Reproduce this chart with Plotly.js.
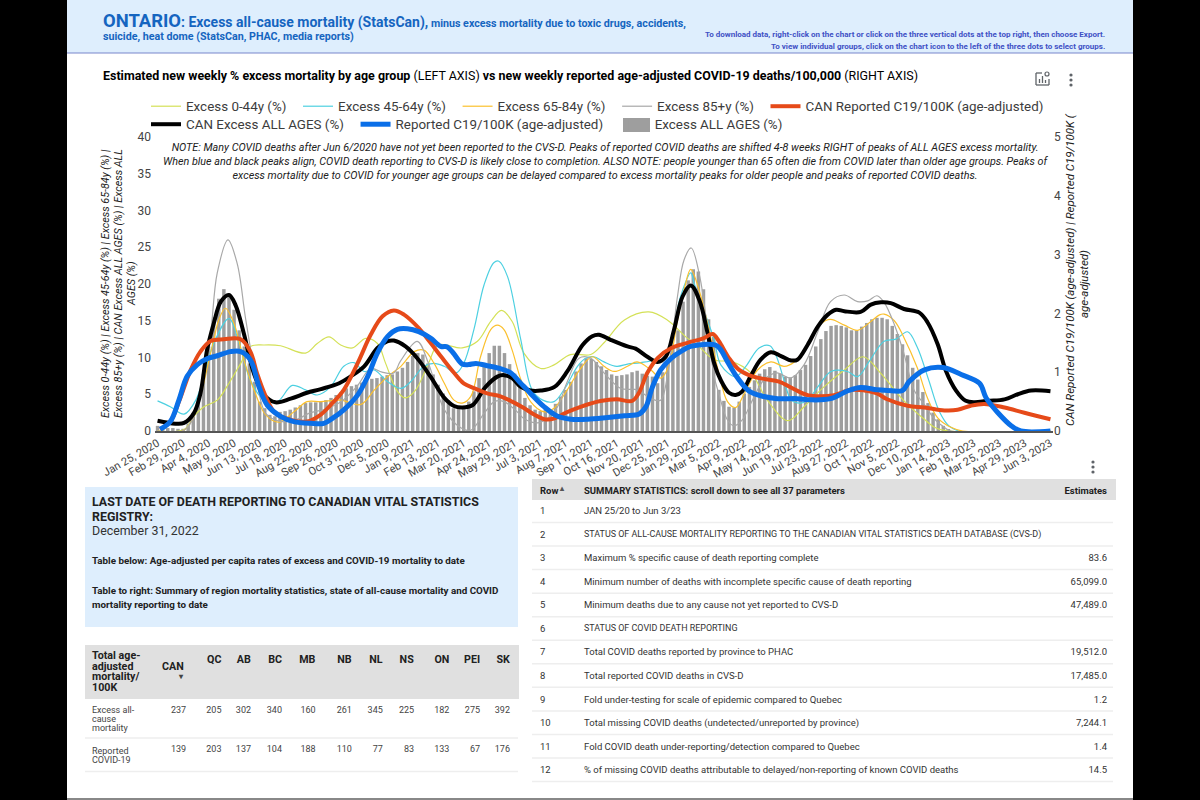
<!DOCTYPE html>
<html>
<head>
<meta charset="utf-8">
<script src="https://cdn.plot.ly/plotly-3.0.1.min.js"></script>
<style>html,body{margin:0;padding:0;background:#000;overflow:hidden}#chart{width:1200px;height:800px}</style>
</head>
<body>
<div id="chart"></div>
<script>
const tickLabels = ["Jan 25, 2020","Feb 29, 2020","Apr 4, 2020","May 9, 2020","Jun 13, 2020","Jul 18, 2020","Aug 22, 2020","Sep 26, 2020","Oct 31, 2020","Dec 5, 2020","Jan 9, 2021","Feb 13, 2021","Mar 20, 2021","Apr 24, 2021","May 29, 2021","Jul 3, 2021","Aug 7, 2021","Sep 11, 2021","Oct 16, 2021","Nov 20, 2021","Dec 25, 2021","Jan 29, 2022","Mar 5, 2022","Apr 9, 2022","May 14, 2022","Jun 19, 2022","Jul 23, 2022","Aug 27, 2022","Oct 1, 2022","Nov 5, 2022","Dec 10, 2022","Jan 14, 2023","Feb 18, 2023","Mar 25, 2023","Apr 29, 2023","Jun 3, 2023"];
const tickWeeks = [0,5,10,15,20,25,30,35,40,45,50,55,60,65,70,75,80,85,90,95,100,105,110,115,120,125,130,135,140,145,150,155,160,165,170,175];

const barsAllAges = [.7,.4,.4,.4,.3,.3,1,2.5,4.2,7.8,11.5,15.5,18,19.3,18.7,16.5,13.7,11.5,9.2,6.7,4,3.1,2.2,2,2.6,2.7,2.9,3.2,3.5,3.8,3.9,3.9,4,4.2,4.5,4.9,5.3,5.8,6.1,6.3,6.6,6.9,7.1,7.2,7.4,7.6,7.7,8.1,8.6,9.4,10.2,10.6,10.4,9.2,7.7,6.3,5.1,4.2,3.1,3.1,3.1,4,5.4,7.2,8.7,10.6,11.6,11.6,10.6,9.1,7.8,6,4.5,3.5,2.9,2.7,2.9,2.6,3.7,4.7,5.6,6.7,8.1,9.2,9.9,9.8,9.4,8.8,8.3,7.7,7.5,7.6,7.7,8,8.2,7.8,7.5,7.4,6.5,8,9.4,11.7,13.7,17.6,20.5,22,21.7,19.3,15.2,12.8,5.6,4.1,3.3,3.2,4,5.1,6,6.9,7.8,8.4,8.7,8.2,7.8,7.4,7.3,7.6,8.3,9,10.2,11.5,12.5,13.6,14.3,14.4,14.3,14.1,13.7,13.7,14.2,14.7,15.2,15.4,15.4,15.2,14.3,13.2,11.8,10.3,8.6,7,5.3,3.8,2.5,1.6,.7,.2,0,0,0,0,0,0,0,0,0,0,0,0,0,0,0,0,0,0,0,0];

const wk044 = [0,5.2,7.1,9.1,11.7,14,16.3,18.2,20.9,24.1,29,31.3,33.6,35.9,38.2,40.8,43.1,44.7,47,48.6,50.6,53.1,55,59.7,62.7,65.3,67.4,69.5,71.8,75.1,77.7,80.9,84.9,87.5,91.5,96.3,99.9,103.9,105.8,109.1,112.7,116.3,119.5,123.5,126.7,130.6,134.6,138.3,141.8,146.3,150.3,152.9,175];
const excess044 = [0,.2,2,3.3,4.2,6.5,9.2,11.5,11.7,11.6,10.6,11.9,12.8,11.7,11.3,12.6,11.9,9.2,5.4,4.5,5.6,9.2,11.7,11.3,12.2,14.9,16.4,14.9,10.6,8.5,9,10.4,10.4,12,15.1,16.2,15.1,12.6,11.7,9.7,9.4,7.9,4.2,1.4,3.3,6,8.3,10.1,7.8,4.1,1.6,.3,0];

const wk4564 = [0,2.5,5.2,7.5,11,14,16,18.2,20.9,23.5,26.4,29,31.3,33.9,36.5,38.5,40.5,42.5,45.1,47.7,49.6,52.2,54.2,56.2,58.5,60,62,64,65.9,66.9,68.6,71.2,73.4,75.5,77.7,80,82.3,83.9,85.5,87.5,90,92.1,94.7,97.3,99.9,102.5,104.5,105.2,107.5,109.1,110.4,113.3,115.3,117.9,120,121.2,122.8,124.2,126,127.4,129.4,132,135.2,137.2,139.5,142.4,144.7,147,148.9,151.2,153.2,155.1,157.1,175];
const excess4564 = [4.1,3.3,2.3,4.2,11.9,15.3,11.9,6.9,4.2,4,6.2,5.6,4.9,6,8.8,9.3,8.1,8.3,6.7,5.8,6.7,8.8,9.2,8.8,7.9,9.2,13.8,19.9,22.9,23.1,21,12.4,5.6,4.2,4,6,8.8,9.9,10.1,9.4,8.8,9.1,9.3,9.7,11,18.3,21.5,20,15.6,12.4,9,7.4,8.8,11.3,11.6,10.3,6.9,4.2,3.8,4.2,6,8.1,8.1,7.4,9.5,12.2,12.5,13.5,11.4,6.8,2.7,.7,0,0];

const wk6584 = [0,5.2,7.1,8.4,11,12,13.3,15,16.9,18.9,21.2,23.8,26.7,29.3,32,35.9,39.8,42.5,45.1,47.7,50.3,52.2,54.2,56.2,58.1,59.7,61.4,63.3,65.3,66.6,67.9,69.5,71.2,73.1,75.8,77.7,80.3,82.9,85.2,87.5,89.5,92.1,94,96.7,98.6,100,101.9,103.3,104.5,106.5,108.5,110,111.7,113.3,115,117.6,120.2,122.8,124.8,127.4,130,131.9,134.6,137.2,139.8,141.5,142.4,144.4,146.3,148.9,150.9,152.9,155.5,157.8,175];
const excess6584 = [0,.1,2,4.7,12.4,15.1,16.7,14.6,9.7,5.6,2.2,1.2,2.6,4,4,4.2,3.6,5.6,7.4,8.8,10.8,11,9.2,6.5,4.2,3.8,4.7,10.1,13.8,14.4,13.8,11,7,4,2.6,3.1,5.6,8.5,10.1,8.8,8.1,8.8,9.4,8.3,7.2,8.5,15,19.5,22,18.3,12.4,7.9,4,3.2,5.1,8.3,9.4,8.8,9.4,11.7,14.6,15.2,14.4,13.7,14.9,15.8,15.9,15,12.7,8.6,4.5,1.8,.5,0,0];

const wk85 = [0,5.2,7.1,9.1,10.4,11.7,13.8,15.6,17.3,19.5,21.2,24.1,27,30,33,36,39,41.8,44,46.3,47.6,50.9,53.1,56.2,59.5,61.4,64,66,67.9,70.5,71.8,74.4,76.4,78.4,80.3,82.6,84.9,87.5,90.8,94,96.7,98.6,99.9,101.9,103.2,104.6,106.3,107.8,109.1,110,111.7,113,114.6,116.6,118.9,121.4,124.1,126.7,129.4,131.9,134.6,137.2,139.2,141,142.4,144.4,146.3,148.3,150.3,152.3,154.2,155.5,175];
const excess85 = [0,.1,2,8.3,13.3,21.5,26,22.8,15.1,6.5,2.4,1.3,1.5,2.5,3,4,6,8.5,8,7.9,9.5,12.2,9.2,2.9,.4,.1,2.4,4,4,2.6,1.7,1.1,1.7,3.3,6.7,9.9,9.9,7.9,5.8,5.6,4.4,4.2,7.4,18.3,23.3,24.9,20.9,13.8,7.4,5.1,1.5,.7,1.5,4.2,7,7.9,7.2,9,13.5,17.6,18.5,17.6,17.7,18.4,17.5,14.5,10.5,5.5,3.6,1.6,.5,0,0];

const wkCanExcess = [0,3.5,5.2,7.1,8.4,9.7,11,12.4,14,15.3,16.9,18.9,20.9,23.1,26.1,29.3,32,35.6,37.8,40.5,43.1,45,46.3,48.6,50.9,53.5,56.2,58.1,59.7,61.7,64.3,66.6,67.9,69.5,71.2,73.1,75.1,77.8,80.3,83.3,85.2,86.5,88.8,92.1,93.7,96,98,99.6,101.2,102.9,104.5,106.2,107.8,109.1,110.4,112,113.3,114.6,116.2,118.2,120.2,122.2,124.2,125.4,127.4,129.4,131.3,133,134.6,137.8,139.8,141.8,143.7,146.3,149.3,150.9,152.9,154.5,156.5,158.4,160.1,162.7,166,168.6,171.2,175];
const canExcessAll = [1.4,1,1.1,2.4,5.1,11,14.6,17.6,18.5,17.1,13.3,7.8,4.9,3.9,4.4,5.2,5.7,6.5,7.4,8.8,11.3,12.2,12.3,11.5,9.9,7.4,4.5,3.4,3.2,3.5,6,7.4,7.6,7.2,6,5.5,5.5,6,8.1,11.7,12.9,13.1,12.4,11.5,11.2,10.1,9.4,10.1,13.7,18.3,19.8,17.8,13.3,9.2,6.9,5.2,4.9,5.4,7.4,9.7,10.7,10.2,9.6,9.7,11.7,14.2,15.8,16.5,16.3,16.2,17.2,17.5,17.4,16.6,16.1,14.8,11.8,8.2,5.5,4.1,3.9,4.1,4.3,5,5.5,5.4];

const wkCanC19 = [.5,2.5,4.2,6.5,8.4,10.4,13,16.3,18.2,19.5,21.2,23.1,26.1,29.3,32,33.9,36.5,39.2,41.8,44.1,46.3,48.3,51.2,53.5,55.8,58.1,60,62,64.6,67.2,69.5,71.8,73.8,75.8,77.7,80,82.9,86.8,90,93,94.3,96,98,100.7,103.9,107.1,108.8,110,112,114,116.6,119.2,121.8,124.8,127.4,130,132.6,135.9,138.5,141,143,147,150.3,154.2,156.8,159.4,162,166,169.9,175];
const canReportedC19 = [.03,.16,.5,1.04,1.35,1.53,1.56,1.56,1.35,.98,.59,.3,.19,.16,.28,.44,.7,1.15,1.64,1.95,2.05,1.98,1.75,1.5,1.24,.99,.81,.73,.64,.59,.5,.39,.28,.2,.21,.31,.41,.51,.54,.51,.64,.99,1.24,1.41,1.5,1.58,1.65,1.53,1.24,1.04,.93,.88,.84,.71,.61,.59,.61,.7,.69,.64,.54,.43,.4,.35,.36,.43,.46,.4,.31,.2];

const wkC19 = [.5,2.5,4.2,5.8,7.8,9.7,11.7,14.3,16.3,18.2,19.9,21.5,24.1,26.7,30,32.6,34.2,36.5,39.2,41.2,43.1,45.1,47,49,51.2,53.5,55.5,56.8,58.1,59.7,61,62.4,64.6,67.2,69.2,71.2,73.1,75.8,78.4,81,84.3,88.2,91.5,94.4,95.7,97,98.6,100.7,102.5,104.5,109.4,110.4,111.7,113.7,115.9,118.2,121.5,125.4,128,131.9,135.2,137.8,141,143,146,147.3,150.3,153.9,157.5,161.1,162.4,164.7,167.3,169.2,175];
const reportedC19 = [.03,.16,.53,.93,1.13,1.23,1.28,1.35,1.35,1.21,.75,.44,.25,.16,.13,.13,.21,.36,.61,.93,1.33,1.61,1.73,1.74,1.69,1.58,1.44,1.43,1.31,1.14,1.13,1.15,1.11,1.06,.99,.81,.64,.41,.25,.2,.2,.23,.26,.29,.41,.75,1.04,1.24,1.35,1.44,1.46,1.38,1.18,.9,.68,.6,.55,.55,.53,.55,.68,.74,.7,.69,.69,.84,1.04,1.08,.96,.81,.56,.31,.09,0,0];

const provFirstHeader = ["Total age-","adjusted","mortality/","100K"];
const provHeader = ["<br>QC","<br>AB","<br>BC","<br>MB","<br>NB","<br>NL","<br>NS","<br>ON","<br>PEI","<br>SK"];
const provRowExcess = ["Excess all-","cause","mortality"];
const provRowCovid = ["Reported","COVID-19"];
const provCAN = ["237","139"], provQC = ["205","203"], provAB = ["302","137"], provBC = ["340","104"], provMB = ["160","188"], provNB = ["261","110"], provNL = ["345","77"], provNS = ["225","83"], provON = ["182","133"], provPEI = ["275","67"], provSK = ["392","176"];

const statRows = ["1","2","3","4","5","6","7","8","9","10","11","12"];
const statNames = ["JAN 25/20 to Jun 3/23","STATUS OF ALL-CAUSE MORTALITY REPORTING TO THE CANADIAN VITAL STATISTICS DEATH DATABASE (CVS-D)","Maximum % specific cause of death reporting complete","Minimum number of deaths with incomplete specific cause of death reporting","Minimum deaths due to any cause not yet reported to CVS-D","STATUS OF COVID DEATH REPORTING","Total COVID deaths reported by province to PHAC","Total reported COVID deaths in CVS-D","Fold under-testing for scale of epidemic compared to Quebec","Total missing COVID deaths (undetected/unreported by province)","Fold COVID death under-reporting/detection compared to Quebec","% of missing COVID deaths attributable to delayed/non-reporting of known COVID deaths"];
const statValues = ["","","83.6","65,099.0","47,489.0","","19,512.0","17,485.0","1.2","7,244.1","1.4","14.5"];

const FONT = 'Roboto, Arial, sans-serif';
const px = v => v / 1200;
const py = v => 1 - v / 800;
const GAP = '&nbsp;&nbsp;';

function line(name, x, y, color, width, rank, axis, legend) {
  return {type:'scatter', mode:'lines', name, x, y, yaxis: axis || 'y', legend: legend || 'legend', legendrank: rank,
          line:{color, width, shape:'spline', smoothing:1}, hoverinfo:'skip'};
}
const rightAligned = n => ['left'].concat(Array(n).fill('right'));
const traces = [
  {type:'bar', name:'Excess ALL AGES (%)', x: barsAllAges.map((_, i) => i), y: barsAllAges, width:0.68,
   marker:{color:'#9e9e9e'}, legend:'legend2', legendrank:8, hoverinfo:'skip'},
  line('Excess 0-44y (%)' + GAP, wk044, excess044, '#d4e157', 1.2, 1),
  line('Excess 45-64y (%)' + GAP, wk4564, excess4564, '#4dd0e1', 1.2, 2),
  line('Excess 65-84y (%)' + GAP, wk6584, excess6584, '#fbc02d', 1.2, 3),
  line('Excess 85+y (%)' + GAP, wk85, excess85, '#a8a8a8', 1.2, 4),
  line('CAN Reported C19/100K (age-adjusted)', wkCanC19, canReportedC19, '#e64a19', 4, 5, 'y2'),
  line('CAN Excess ALL AGES (%)' + GAP, wkCanExcess, canExcessAll, '#000000', 4, 6, 'y', 'legend2'),
  line('Reported C19/100K (age-adjusted)' + GAP, wkC19, reportedC19, '#0a6fe8', 5, 7, 'y2', 'legend2'),
  {type:'table', domain:{x:[px(85), px(518.7)], y:[py(790), py(645)]},
   columnwidth:[70,39.3,35.4,29.6,31,33.7,36.3,31,31.4,35.3,30.7,30],
   header:{values:['',''].concat(provHeader), align:rightAligned(11),
           fill:{color:'#e0e0e0'}, line:{color:'#e0e0e0', width:1}, height:53,
           font:{family:FONT, size:10.7, color:'#212121', weight:700}},
   cells:{values:[['&nbsp;<br>&nbsp;',''],provCAN,provQC,provAB,provBC,provMB,provNB,provNL,provNS,provON,provPEI,provSK],
          align:rightAligned(11),
          fill:{color:'#ffffff'}, line:{color:'#ffffff', width:1}, height:33,
          font:{family:FONT, size:[9.8,9,9,9,9,9,9,9,9,9,9,9], color:'#444444'}}},
  {type:'table', domain:{x:[px(532), px(1115)], y:[py(790), py(479)]},
   columnwidth:[44,480,59],
   header:{values:['Row','SUMMARY STATISTICS: scroll down to see all 37 parameters','Estimates'], align:['left','left','right'],
           fill:{color:'#e0e0e0'}, line:{color:'#e0e0e0', width:1}, height:20,
           font:{family:FONT, size:9.5, color:'#212121', weight:700}},
   cells:{values:[statRows,statNames,statValues], align:['left','left','right'],
          fill:{color:'#ffffff'}, line:{color:'#ffffff', width:1}, height:23.55,
          font:{family:FONT, size:[9.5, statNames.map(s => s === s.toUpperCase() ? 8.95 : 9.5), 9.5], color:'#333333'}}}
];

function note(text, x, y, opts) {
  return Object.assign({xref:'paper', yref:'paper', x:px(x-2), y:py(y), text, showarrow:false, xanchor:'left', yanchor:'middle', align:'left',
    font:{family:FONT, size:12, color:'#212121'}}, opts || {});
}
const yTitleFont = {family:FONT, size:10.8, color:'#222'};
const annotations = [
  note('<b><span style="font-size:18.4px">ONTARIO</span><span style="font-size:14px">: Excess all-cause mortality (StatsCan),</span> minus excess mortality due to toxic drugs, accidents,</b>', 103, 20, {font:{family:FONT, size:10.7, color:'#1565c0'}}),
  note('<b>suicide, heat dome (StatsCan, PHAC, media reports)</b>', 103, 36, {font:{family:FONT, size:10.7, color:'#1565c0'}}),
  note('<b>To download data, right-click on the chart or click on the three vertical dots at the top right, then choose Export.</b>', 1109, 35, {xanchor:'right', align:'right', font:{family:FONT, size:8, color:'#3f51c5'}}),
  note('<b>To view individual groups, click on the chart icon to the left of the three dots to select groups.</b>', 1109, 46, {xanchor:'right', align:'right', font:{family:FONT, size:8, color:'#3f51c5'}}),
  note('<b>Estimated new weekly % excess mortality by age group</b> (LEFT AXIS) <b>vs new weekly reported age-adjusted COVID-19 deaths/100,000</b> (RIGHT AXIS)', 103, 76, {font:{family:FONT, size:12.45, color:'#000'}}),
  note('<i>NOTE: Many COVID deaths after Jun 6/2020 have not yet been reported to the CVS-D. Peaks of reported COVID deaths are shifted 4-8 weeks RIGHT of peaks of ALL AGES excess mortality.<br>When blue and black peaks align, COVID death reporting to CVS-D is likely close to completion. ALSO NOTE: people younger than 65 often die from COVID later than older age groups. Peaks of<br>excess mortality due to COVID for younger age groups can be delayed compared to excess mortality peaks for older people and peaks of reported COVID deaths.</i>', 607.5, 161, {xanchor:'center', align:'center', font:{family:FONT, size:10.77, color:'#212121'}}),
  note('<b>LAST DATE OF DEATH REPORTING TO CANADIAN VITAL STATISTICS</b>', 92, 501, {font:{family:FONT, size:12.4, color:'#212121'}}),
  note('<b>REGISTRY:</b>', 92, 516, {font:{family:FONT, size:12.4, color:'#212121'}}),
  note('December 31, 2022', 92, 530, {font:{family:FONT, size:12.4, color:'#333'}}),
  note('<b>Table below: Age-adjusted per capita rates of excess and COVID-19 mortality to date</b>', 92, 560, {font:{family:FONT, size:9.8, color:'#212121'}}),
  note('<b>Table to right: Summary of region mortality statistics, state of all-cause mortality and COVID</b>', 92, 590, {font:{family:FONT, size:9.8, color:'#212121'}}),
  note('<b>mortality reporting to date</b>', 92, 604, {font:{family:FONT, size:9.8, color:'#212121'}}),
  note('<b>▴</b>', 564, 489, {xanchor:'center', font:{family:FONT, size:8, color:'#555'}}),
  note('<b>CAN</b>', 188, 666, {xanchor:'right', align:'right', font:{family:FONT, size:10.7, color:'#212121'}}),
  note('<b>▾</b>', 183, 676, {xanchor:'center', font:{family:FONT, size:8, color:'#444'}}),
  note('<i>Excess 0-44y (%) | Excess 45-64y (%) | Excess 65-84y (%) |</i>', 107, 284, {xanchor:'center', textangle:-90, font:yTitleFont}),
  note('<i>Excess 85+y (%) | CAN Excess ALL AGES (%) | Excess ALL</i>', 120, 284, {xanchor:'center', textangle:-90, font:yTitleFont}),
  note('<i>AGES (%)</i>', 133, 284, {xanchor:'center', textangle:-90, font:yTitleFont}),
  note('<i>CAN Reported C19/100K (age-adjusted) | Reported C19/100K (</i>', 1072, 270, {xanchor:'center', textangle:-90, font:{family:FONT, size:11.5, color:'#222'}}),
  note('<i>age-adjusted)</i>', 1086, 284, {xanchor:'center', textangle:-90, font:{family:FONT, size:11.5, color:'#222'}})
];
provFirstHeader.forEach((t, i) => annotations.push(note('<b>' + t + '</b>', 92, 655.7 + i * 10.5, {font:{family:FONT, size:10.7, color:'#212121'}})));
provRowExcess.forEach((t, i) => annotations.push(note(t, 92, 709.7 + i * 9, {font:{family:FONT, size:9, color:'#444'}})));
provRowCovid.forEach((t, i) => annotations.push(note(t, 92, 751 + i * 9, {font:{family:FONT, size:9, color:'#444'}})));

function rect(x0, y0, x1, y1, color, extra) {
  return Object.assign({type:'rect', xref:'paper', yref:'paper', x0:px(x0), x1:px(x1), y0:py(y0), y1:py(y1),
    fillcolor:color, line:{width:0}, layer:'below'}, extra || {});
}
function dot(x, y) {
  return {type:'circle', xref:'paper', yref:'paper', x0:px(x-1.6), x1:px(x+1.6), y0:py(y+1.6), y1:py(y-1.6), fillcolor:'#5f6368', line:{width:0}};
}
function seg(x0, y0, x1, y1, color, width) {
  return {type:'line', xref:'paper', yref:'paper', x0:px(x0), x1:px(x1), y0:py(y0), y1:py(y1), line:{color:color || '#5f6368', width:width || 1.3}};
}
const shapes = [
  rect(0, 0, 67, 800, '#000000'),
  rect(1133, 0, 1200, 800, '#000000'),
  rect(67, 0, 1133, 53, '#deeefd'),
  rect(67, 52.5, 1133, 53.5, '#7986cb'),
  rect(67, 798, 1133, 800, '#888888'),
  rect(85, 487, 518, 627, '#deeefd'),
  rect(623, 118, 650, 132, '#9e9e9e', {layer:'above'}),
  dot(1071, 75), dot(1071, 80), dot(1071, 85),
  dot(1093, 462), dot(1093, 467), dot(1093, 472),
  seg(1036, 73, 1036, 85), seg(1036, 85, 1049, 85), seg(1049, 85, 1049, 79),
  seg(1036, 73, 1042, 73), seg(1039.5, 83, 1039.5, 79), seg(1042.5, 83, 1042.5, 76), seg(1045.5, 83, 1045.5, 80),
  {type:'circle', xref:'paper', yref:'paper', x0:px(1045), x1:px(1049), y0:py(76), y1:py(72), line:{color:'#5f6368', width:1.2}},
  seg(85, 738, 518, 738, '#eeeeee', 1.5), seg(85, 771.5, 518, 771.5, '#eeeeee', 1.5)
];
statRows.forEach((_, k) => shapes.push(seg(532, 522.5 + k * 23.55, 1113, 522.5 + k * 23.55, '#eeeeee', 1.5)));

const legendBase = {orientation:'h', xanchor:'left', yanchor:'top', traceorder:'normal', font:{family:FONT, size:13.4, color:'#3c3c3c'}, bgcolor:'rgba(0,0,0,0)'};
const layout = {
  width:1200, height:800, margin:{l:0, r:0, t:0, b:0, autoexpand:false},
  paper_bgcolor:'#ffffff', plot_bgcolor:'rgba(0,0,0,0)', font:{family:FONT, size:11, color:'#444'},
  barmode:'overlay', showlegend:true,
  xaxis:{domain:[px(155), px(1053)], range:[-0.5,175.5], tickvals:tickWeeks, ticktext:tickLabels, tickangle:-30,
         tickfont:{family:FONT, size:11, color:'#444'}, showgrid:false, zeroline:false, showline:true, linecolor:'#555', linewidth:1.5, ticks:''},
  yaxis:{domain:[py(431), py(137)], range:[0,40], tickvals:[0,5,10,15,20,25,30,35,40], showgrid:false, zeroline:false,
         tickfont:{family:FONT, size:12, color:'#444'}, ticks:'', ticklabelstandoff:3},
  yaxis2:{domain:[py(431), py(137)], overlaying:'y', side:'right', range:[0,5], tickvals:[0,1,2,3,4,5], showgrid:false, zeroline:false,
          tickfont:{family:FONT, size:12, color:'#444'}, ticks:''},
  legend:Object.assign({x:px(146), y:py(91)}, legendBase),
  legend2:Object.assign({x:px(146), y:py(109)}, legendBase),
  annotations, shapes
};
Plotly.newPlot('chart', traces, layout, {displayModeBar:false, responsive:false});
</script>
</body>
</html>
